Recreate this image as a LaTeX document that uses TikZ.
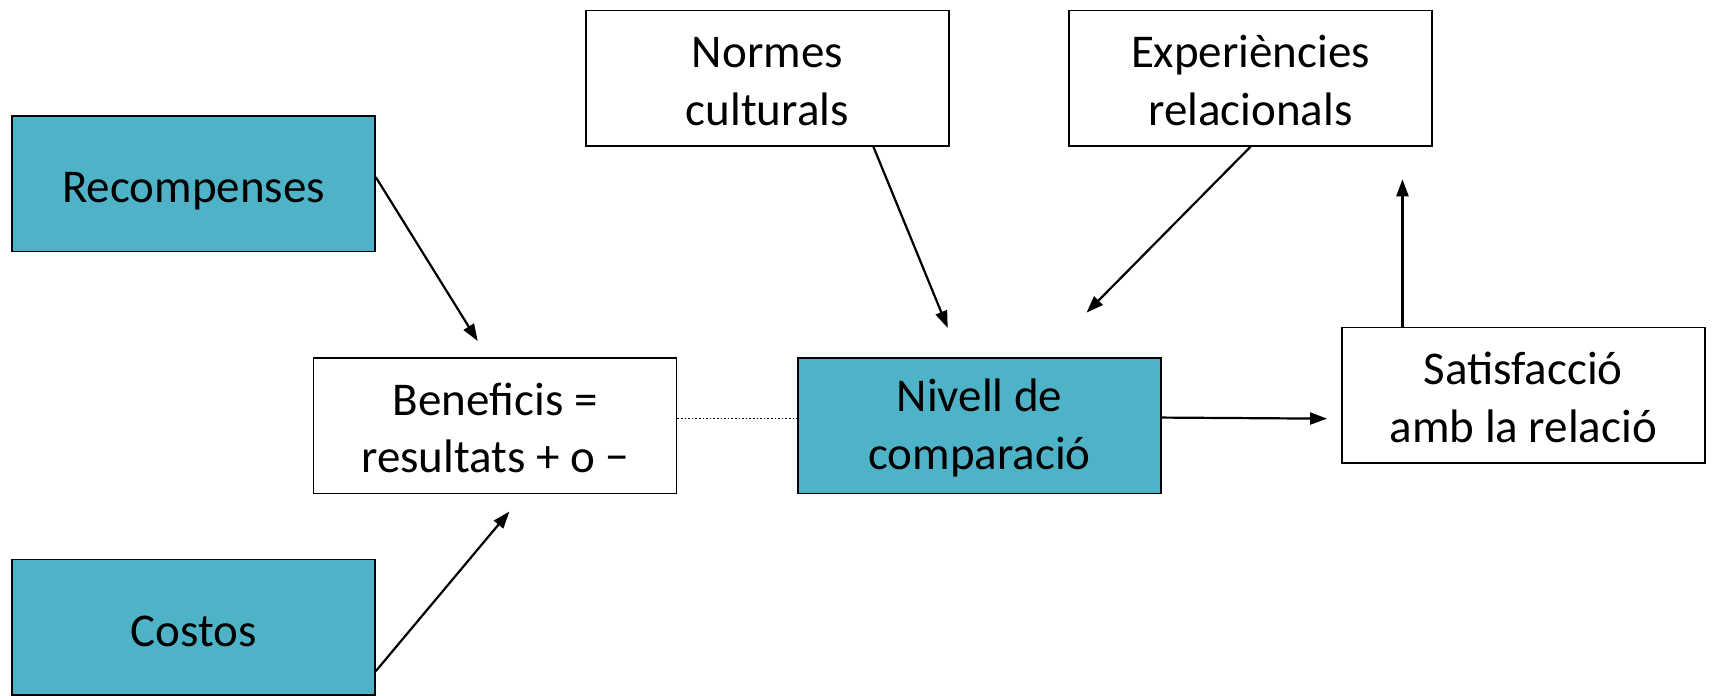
\documentclass[tikz,border=0pt]{standalone}
\usepackage{fontspec}
\setmainfont{Carlito}
\usetikzlibrary{arrows.meta}
\definecolor{teal1}{RGB}{79,179,200}
\newcommand{\mytopstrut}{\rule{0pt}{37pt}}
\begin{document}
\begin{tikzpicture}[x=1.0931pt,y=-1.0931pt,
  box/.style={draw=black,line width=1.6pt,minimum width=363pt,minimum height=135.5pt,inner sep=0pt,align=center,font=\fontsize{47}{57.5}\selectfont},
  single/.style={execute at begin node={\rule{0pt}{49pt}},execute at end node={\rule[-11.75pt]{0pt}{0pt}}},
  tealbox/.style={box,fill=teal1},
  whitebox/.style={box,fill=white},
  arr/.style={line width=2.2pt,-{Triangle[length=17pt,width=12pt]}}]
\useasboundingbox (0,0) rectangle (1568,636.7);
\node[tealbox,single] (rec) at (177,168) {Recompenses};
\node[tealbox,single] (cos) at (177,574) {Costos};
\node[whitebox] (ben) at (453,389.5) {\mytopstrut Beneficis =\\resultats + o −};
\node[tealbox] (niv) at (896,389.5) {\mytopstrut Nivell de\\comparació};
\node[whitebox] (nor) at (702,71.5) {\mytopstrut Normes\\culturals};
\node[whitebox] (exp) at (1144,71.5) {\mytopstrut Experiències\\relacionals};
\node[whitebox] (sat) at (1393.5,361.5) {\mytopstrut Satisfacció\\amb la relació};
\coordinate (recE) at (437,312);
\coordinate (cosE) at (466,468);
\coordinate (norE) at (867,300);
\coordinate (expE) at (994,286);
\coordinate (nivE) at (1214,383);
\coordinate (satE) at (1283,164);
\draw[arr] (rec.east |- 0,162) -- (recE);
\draw[arr] (cos.east |- 0,614) -- (cosE);
\draw[line width=1.6pt,dotted] (ben.east |- 0,383) -- (niv.west |- 0,383);
\draw[arr] (nor.south -| 799,0) -- (norE);
\draw[arr] (exp.south) -- (expE);
\draw[arr] (niv.east |- 0,382) -- (nivE);
\draw[arr] (sat.north -| 1283,0) -- (satE);
\end{tikzpicture}
\end{document}
